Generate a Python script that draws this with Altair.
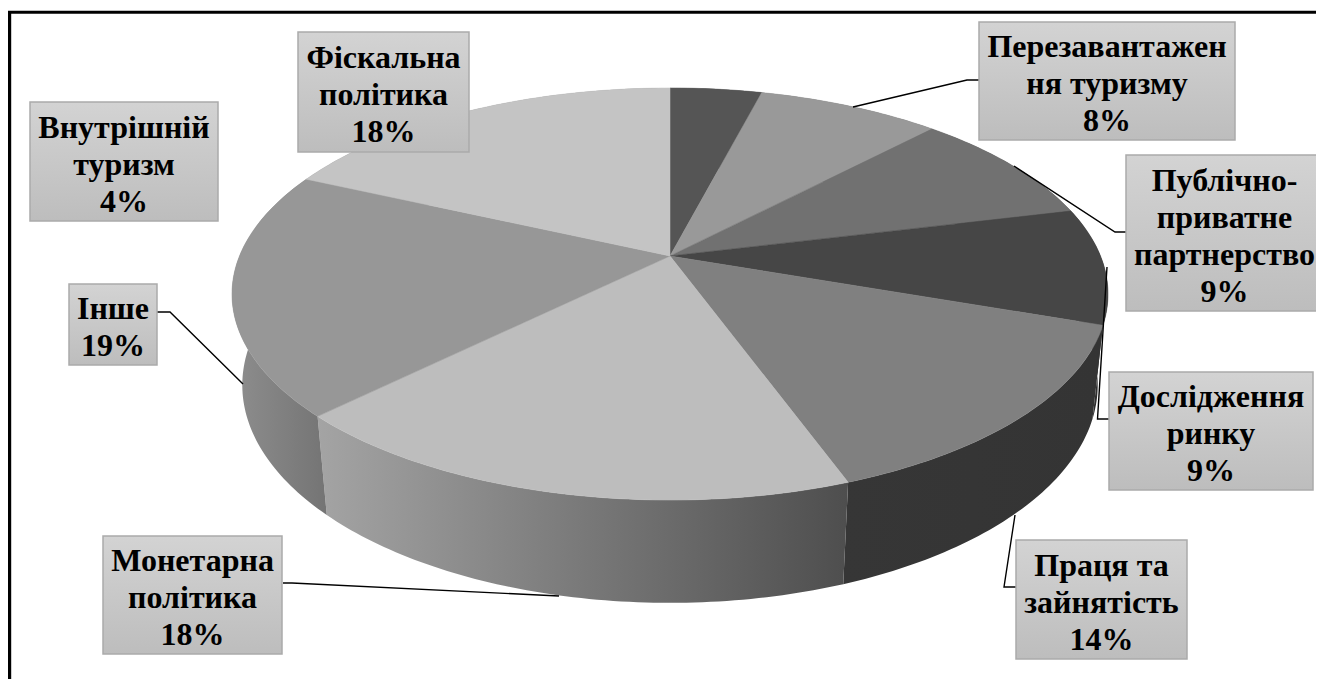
import math
import altair as alt
import pandas as pd

# ---- values (clockwise from 12 o'clock)
CATEGORIES = ["Внутрішній туризм", "Перезавантаження туризму", "Публічно-приватне партнерство",
              "Дослідження ринку", "Праця та зайнятість", "Монетарна політика", "Інше", "Фіскальна політика"]
PERCENTS = [4, 8, 9, 9, 14, 18, 19, 18]
LABEL_LINES = ["Внутрішній\nтуризм\n4%", "Перезавантажен\nня туризму\n8%",
               "Публічно-\nприватне\nпартнерство\n9%", "Дослідження\nринку\n9%",
               "Праця та\nзайнятість\n14%", "Монетарна\nполітика\n18%", "Інше\n19%",
               "Фіскальна\nполітика\n18%"]

# ---- styles
TOP_COLORS = ["#555555", "#999999", "#717171", "#464646", "#808080", "#bdbdbd", "#979797", "#c4c4c4"]
SIDE_LEFT = ["#3a3a3a", "#6a6a6a", "#505050", "#2f2f2f", "#363636", "#a4a4a4", "#8e8e8e", "#8a8a8a"]
SIDE_RIGHT = ["#3a3a3a", "#6a6a6a", "#505050", "#2f2f2f", "#343434", "#4e4e4e", "#747474", "#8a8a8a"]

# ---- layout of the label boxes: x1, x2, y1, y2
BOXES = [(30, 218, 102, 221), (979, 1235, 22, 140), (1126, 1323, 155, 311), (1109, 1313, 372, 490),
         (1016, 1187, 540, 659), (103, 282, 536, 654), (69, 157, 284, 365), (298, 469, 32, 152)]
LEADERS = [[], [(980, 80), (967, 80), (853, 107)], [(1126, 232), (1115, 232), (1014, 166)],
           [(1110, 419), (1097.5, 419), (1107, 267)], [(1016, 587), (1004, 587), (1015, 515)],
           [(283, 583), (292, 583), (559, 596)], [(157, 312), (170, 312), (243, 384)], []]

# ---- perspective of the pie
CX, KX, A, B, C, VY, DEPTH = 670, 430.5, 151.8, 256, -0.1845, 4200, 0.0233
X0, X1, Y0, Y1 = 8, 1316, 8, 679
FONT = "Liberation Serif"
FONT_SIZE = 32
LINE_HEIGHT = 37
TEXT_SHIFT = 3


def rim(theta, bottom=False):
    u, v = math.sin(theta), -math.cos(theta)
    w = 1 + C * v
    d = DEPTH if bottom else 0
    return CX + KX * u / (w + d), (A * v + B + d * VY) / (w + d)


def arc(p1, p2, bottom=False):
    n = max(2, int((p2 - p1) * 400))
    return [rim(2 * math.pi * (p1 + (p2 - p1) * i / n), bottom) for i in range(n + 1)]


def frame(points):
    return pd.DataFrame({"x": [p[0] for p in points], "y": [p[1] for p in points], "o": range(len(points))})


X_SCALE = alt.Scale(domain=[X0, X1], nice=False, zero=False)
Y_SCALE = alt.Scale(domain=[Y1, Y0], nice=False, zero=False)
X = alt.X("x:Q", scale=X_SCALE, axis=None)
Y = alt.Y("y:Q", scale=Y_SCALE, axis=None)
ENC = dict(x=X, y=Y, order=alt.Order("o:Q"))

total = sum(PERCENTS)
edges = [0]
for pct in PERCENTS:
    edges.append(edges[-1] + pct / total)

layers = []
# side walls
for i in range(len(PERCENTS)):
    top = arc(edges[i], edges[i + 1])
    low = arc(edges[i], edges[i + 1], bottom=True)
    grad = alt.Gradient(gradient="linear", x1=0, x2=1, y1=0, y2=0,
                        stops=[alt.GradientStop(color=SIDE_LEFT[i], offset=0),
                               alt.GradientStop(color=SIDE_RIGHT[i], offset=1)])
    layers.append(alt.Chart(frame(top + low[::-1] + top[:1])).mark_line(fill=grad, strokeWidth=0).encode(**ENC))
# top faces
apex = (CX, B)
for i in range(len(PERCENTS)):
    pts = [apex] + arc(edges[i], edges[i + 1]) + [apex]
    layers.append(alt.Chart(frame(pts)).mark_line(fill=TOP_COLORS[i], stroke=TOP_COLORS[i], strokeWidth=0.5).encode(**ENC))
# leader lines
for pts in LEADERS:
    if pts:
        layers.append(alt.Chart(frame(pts)).mark_line(color="#000000", strokeWidth=1.4).encode(**ENC))
# outer frame
frame_top = pd.DataFrame({"x": [X0], "x2": [X1], "y": [12.2]})
frame_left = pd.DataFrame({"x": [9.6], "y": [12.2], "y2": [Y1]})
layers.append(alt.Chart(frame_top).mark_rule(color="#000000", strokeWidth=3).encode(x=X, x2="x2:Q", y=Y))
layers.append(alt.Chart(frame_left).mark_rule(color="#000000", strokeWidth=3.2).encode(x=X, y=Y, y2="y2:Q"))
# label boxes
boxes = pd.DataFrame({"x": [b[0] for b in BOXES], "x2": [b[1] for b in BOXES],
                      "y": [b[2] for b in BOXES], "y2": [b[3] for b in BOXES],
                      "label": LABEL_LINES, "category": CATEGORIES, "percent": PERCENTS})
boxes["cx"] = (boxes.x + boxes.x2) / 2
boxes["cy"] = (boxes.y + boxes.y2) / 2 - boxes.label.str.count("\n") * LINE_HEIGHT / 2 + TEXT_SHIFT
box_grad = alt.Gradient(gradient="linear", x1=0, x2=0, y1=0, y2=1,
                        stops=[alt.GradientStop(color="#d3d3d3", offset=0),
                               alt.GradientStop(color="#bdbdbd", offset=1)])
layers.append(alt.Chart(boxes).mark_rect(fill=box_grad, stroke="#ababab", strokeWidth=1.5)
              .encode(x=X, x2="x2:Q", y=Y, y2="y2:Q"))
layers.append(alt.Chart(boxes).mark_text(font=FONT, fontSize=FONT_SIZE, fontWeight="bold", color="#000000",
                                         align="center", baseline="middle", lineBreak="\n", lineHeight=LINE_HEIGHT)
              .encode(x=alt.X("cx:Q", scale=X_SCALE, axis=None), y=alt.Y("cy:Q", scale=Y_SCALE, axis=None), text="label:N"))

chart = alt.layer(*layers).properties(width=X1 - X0, height=Y1 - Y0, padding=0, background="#ffffff",
                                      autosize=alt.AutoSizeParams(type="none")).configure_view(stroke=None)
chart.save("out.html", embed_options={"renderer": "svg", "actions": False})
